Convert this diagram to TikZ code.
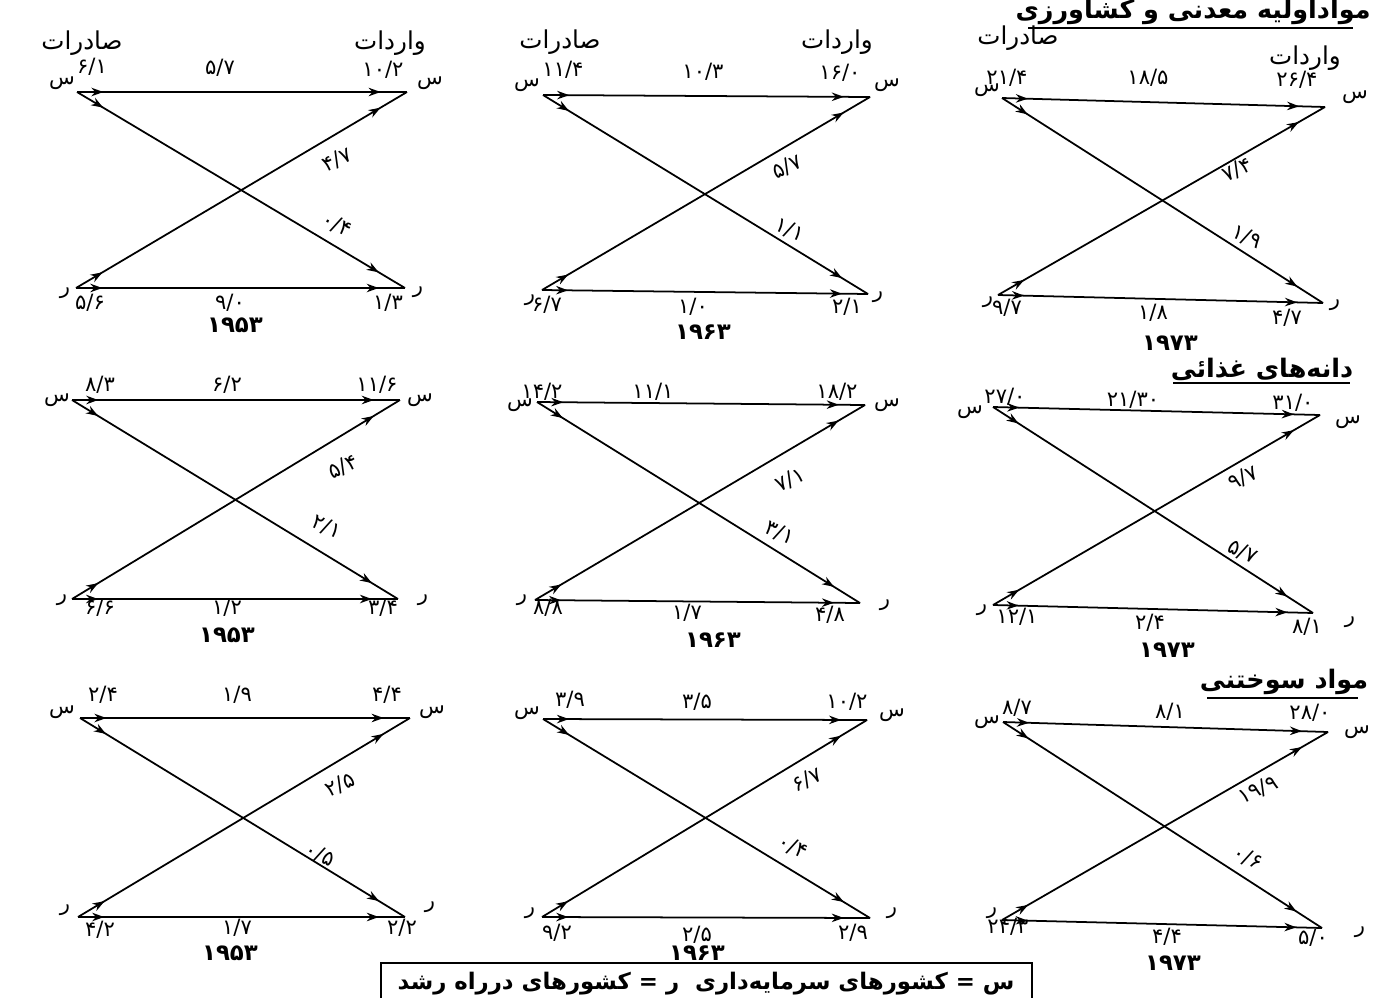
\documentclass[tikz,border=0pt]{standalone}
\usepackage{fontspec}
\TeXXeTstate=1
\newfontfamily\fa[Script=Arabic]{DejaVu Sans}
\usetikzlibrary{arrows.meta,decorations.markings}

\tikzset{
  flujo/.style={line width=1pt,postaction={decorate},decoration={markings,
      mark=at position 0.08 with {\arrow{Stealth[length=2.4mm,width=1.7mm]}},
      mark=at position 0.92 with {\arrow{Stealth[length=2.4mm,width=1.7mm]}}}},
  num/.style={font=\fa\fontsize{12}{12}\selectfont,inner sep=1pt},
  sube/.style={num,rotate=25},
  baja/.style={num,rotate=-25},
  letra/.style={font=\fa\fontsize{12}{12}\selectfont,inner sep=1pt},
  anio/.style={font=\fa\bfseries\fontsize{13}{13}\selectfont,inner sep=1pt},
  cabeza/.style={font=\fa\fontsize{14}{14}\selectfont,inner sep=1pt},
  titulo/.style={font=\fa\bfseries\fontsize{14.5}{14.5}\selectfont,inner sep=1pt}
}

% cuatro flechas de un cuadro: s izq, s der, r izq, r der
\newcommand{\cruce}[5]{%
  \coordinate (#1sl) at (#2); \coordinate (#1sr) at (#3);
  \coordinate (#1rl) at (#4); \coordinate (#1rr) at (#5);
  \draw[flujo] (#1sl) -- (#1sr);
  \draw[flujo] (#1rl) -- (#1rr);
  \draw[flujo] (#1sl) -- (#1rr);
  \draw[flujo] (#1rl) -- (#1sr);
}

\begin{document}
\begin{tikzpicture}[x=0.02cm,y=-0.02cm]
  \useasboundingbox (0,0) rectangle (1394,998);
  % cabeceras
  \node[cabeza] (h1e) at (82,43) {صادرات}; \node[cabeza] (h1i) at (390,43) {واردات};
  \node[cabeza] (h2e) at (560,42) {صادرات}; \node[cabeza] (h2i) at (837,42) {واردات};
  \node[cabeza] (h3e) at (1018,38) {صادرات}; \node[cabeza] (h3i) at (1305,58) {واردات};
  % titulos
  \node[titulo] (t1) at (1193,12) {\beginR مواداولیه معدنی و کشاورزی\endR};
  \draw[line width=1.2pt] (1028,28) -- (1353,28);
  \node[titulo] (t2) at (1262,369) {\beginR دانه‌های غذائی\endR};
  \draw[line width=1.2pt] (1173,383) -- (1350,383);
  \node[titulo] (t3) at (1284,682) {\beginR مواد سوختنی\endR};
  \draw[line width=1.2pt] (1207,698) -- (1358,698);

  % 1953, fila 1
  \cruce{a}{77,92}{407,92}{76,288}{405,288}
  \node[letra] (a-s1) at (62,83) {س}; \node[letra] (a-s2) at (430,83) {س};
  \node[letra] (a-r1) at (65,293) {ر}; \node[letra] (a-r2) at (418,292) {ر};
  \node[num] (a-se) at (92,67) {۶/۱}; \node[num] (a-ss) at (220,68) {۵/۷}; \node[num] (a-si) at (383,70) {۱۰/۲};
  \node[sube] (a-rs) at (337,160) {۴/۷}; \node[baja] (a-sr) at (337,225) {۰/۴};
  \node[num] (a-re) at (90,303) {۵/۶}; \node[num] (a-rr) at (230,303) {۹/۰}; \node[num] (a-ri) at (388,303) {۱/۳};
  \node[anio] (a-y) at (235,325) {۱۹۵۳};

  % 1963, fila 1
  \cruce{b}{543,95}{870,97}{542,290}{868,294}
  \node[letra] (b-s1) at (527,85) {س}; \node[letra] (b-s2) at (887,85) {س};
  \node[letra] (b-r1) at (530,300) {ر}; \node[letra] (b-r2) at (878,297) {ر};
  \node[num] (b-se) at (563,70) {۱۱/۴}; \node[num] (b-ss) at (703,72) {۱۰/۳}; \node[num] (b-si) at (840,73) {۱۶/۰};
  \node[sube] (b-rs) at (787,167) {۵/۷}; \node[baja] (b-sr) at (790,230) {۱/۱};
  \node[num] (b-re) at (547,305) {۶/۷}; \node[num] (b-rr) at (693,307) {۱/۰}; \node[num] (b-ri) at (847,307) {۲/۱};
  \node[anio] (b-y) at (703,332) {۱۹۶۳};

  % 1973, fila 1
  \cruce{c}{1002,98}{1325,107}{998,295}{1323,303}
  \node[letra] (c-s1) at (987,90) {س}; \node[letra] (c-s2) at (1355,97) {س};
  \node[letra] (c-r1) at (988,302) {ر}; \node[letra] (c-r2) at (1335,305) {ر};
  \node[num] (c-se) at (1007,78) {۲۱/۴}; \node[num] (c-ss) at (1148,78) {۱۸/۵}; \node[num] (c-si) at (1297,80) {۲۶/۴};
  \node[sube] (c-rs) at (1237,170) {۷/۴}; \node[baja] (c-sr) at (1247,237) {۱/۹};
  \node[num] (c-re) at (1007,308) {۹/۷}; \node[num] (c-rr) at (1153,313) {۱/۸}; \node[num] (c-ri) at (1287,318) {۴/۷};
  \node[anio] (c-y) at (1170,343) {۱۹۷۳};

  % 1953, fila 2
  \cruce{d}{72,400}{400,400}{72,599}{398,599}
  \node[letra] (d-s1) at (57,400) {س}; \node[letra] (d-s2) at (420,400) {س};
  \node[letra] (d-r1) at (62,600) {ر}; \node[letra] (d-r2) at (423,600) {ر};
  \node[num] (d-se) at (100,385) {۸/۳}; \node[num] (d-ss) at (227,385) {۶/۲}; \node[num] (d-si) at (377,385) {۱۱/۶};
  \node[sube] (d-rs) at (343,467) {۵/۴}; \node[baja] (d-sr) at (327,527) {۲/۱};
  \node[num] (d-re) at (100,608) {۶/۶}; \node[num] (d-rr) at (227,608) {۱/۲}; \node[num] (d-ri) at (383,608) {۳/۴};
  \node[anio] (d-y) at (227,635) {۱۹۵۳};

  % 1963, fila 2
  \cruce{e}{537,402}{865,405}{535,600}{860,603}
  \node[letra] (e-s1) at (520,405) {س}; \node[letra] (e-s2) at (887,405) {س};
  \node[letra] (e-r1) at (522,600) {ر}; \node[letra] (e-r2) at (885,605) {ر};
  \node[num] (e-se) at (542,392) {۱۴/۲}; \node[num] (e-ss) at (653,392) {۱۱/۱}; \node[num] (e-si) at (837,392) {۱۸/۲};
  \node[sube] (e-rs) at (790,480) {۷/۱}; \node[baja] (e-sr) at (780,533) {۳/۱};
  \node[num] (e-re) at (548,608) {۸/۸}; \node[num] (e-rr) at (687,613) {۱/۷}; \node[num] (e-ri) at (830,615) {۴/۸};
  \node[anio] (e-y) at (713,640) {۱۹۶۳};

  % 1973, fila 2
  \cruce{f}{993,407}{1320,415}{993,605}{1313,613}
  \node[letra] (f-s1) at (970,412) {س}; \node[letra] (f-s2) at (1348,422) {س};
  \node[letra] (f-r1) at (982,610) {ر}; \node[letra] (f-r2) at (1350,622) {ر};
  \node[num] (f-se) at (1005,397) {۲۷/۰}; \node[num] (f-ss) at (1133,400) {۲۱/۳۰}; \node[num] (f-si) at (1293,403) {۳۱/۰};
  \node[sube] (f-rs) at (1243,478) {۹/۷}; \node[baja] (f-sr) at (1243,552) {۵/۷};
  \node[num] (f-re) at (1017,617) {۱۲/۱}; \node[num] (f-rr) at (1150,623) {۲/۴}; \node[num] (f-ri) at (1307,627) {۸/۱};
  \node[anio] (f-y) at (1167,650) {۱۹۷۳};

  % 1953, fila 3
  \cruce{g}{80,718}{410,718}{78,917}{405,917}
  \node[letra] (g-s1) at (62,712) {س}; \node[letra] (g-s2) at (432,712) {س};
  \node[letra] (g-r1) at (65,910) {ر}; \node[letra] (g-r2) at (430,907) {ر};
  \node[num] (g-se) at (103,695) {۲/۴}; \node[num] (g-ss) at (237,695) {۱/۹}; \node[num] (g-si) at (387,695) {۴/۴};
  \node[sube] (g-rs) at (340,785) {۲/۵}; \node[baja] (g-sr) at (320,855) {۰/۵};
  \node[num] (g-re) at (100,930) {۴/۲}; \node[num] (g-rr) at (237,928) {۱/۷}; \node[num] (g-ri) at (402,928) {۲/۲};
  \node[anio] (g-y) at (230,953) {۱۹۵۳};

  % 1963, fila 3
  \cruce{h}{543,719}{867,720}{542,917}{870,918}
  \node[letra] (h-s1) at (527,713) {س}; \node[letra] (h-s2) at (892,715) {س};
  \node[letra] (h-r1) at (530,913) {ر}; \node[letra] (h-r2) at (892,913) {ر};
  \node[num] (h-se) at (570,700) {۳/۹}; \node[num] (h-ss) at (697,702) {۳/۵}; \node[num] (h-si) at (847,702) {۱۰/۲};
  \node[sube] (h-rs) at (807,780) {۶/۷}; \node[baja] (h-sr) at (793,847) {۰/۴};
  \node[num] (h-re) at (557,933) {۹/۲}; \node[num] (h-rr) at (697,935) {۲/۵}; \node[num] (h-ri) at (853,933) {۲/۹};
  \node[anio] (h-y) at (697,953) {۱۹۶۳};

  % 1973, fila 3
  \cruce{i}{1003,722}{1328,732}{1002,920}{1322,928}
  \node[letra] (i-s1) at (987,722) {س}; \node[letra] (i-s2) at (1357,732) {س};
  \node[letra] (i-r1) at (992,913) {ر}; \node[letra] (i-r2) at (1360,932) {ر};
  \node[num] (i-se) at (1017,708) {۸/۷}; \node[num] (i-ss) at (1170,712) {۸/۱}; \node[num] (i-si) at (1310,713) {۲۸/۰};
  \node[sube] (i-rs) at (1258,790) {۱۹/۹}; \node[baja] (i-sr) at (1248,858) {۰/۶};
  \node[num] (i-re) at (1008,927) {۲۴/۳}; \node[num] (i-rr) at (1167,937) {۴/۴}; \node[num] (i-ri) at (1313,938) {۵/۰};
  \node[anio] (i-y) at (1173,963) {۱۹۷۳};

  % leyenda
  \draw[line width=1.4pt] (381,998) -- (381,963) -- (1032,963) -- (1032,998);
  \node[titulo,font=\fa\bfseries\fontsize{13}{13}\selectfont] (ley) at (706,984)
    {\beginR س = کشورهای سرمایه‌داری \ ر = کشورهای درراه رشد\endR};
\end{tikzpicture}
\end{document}
